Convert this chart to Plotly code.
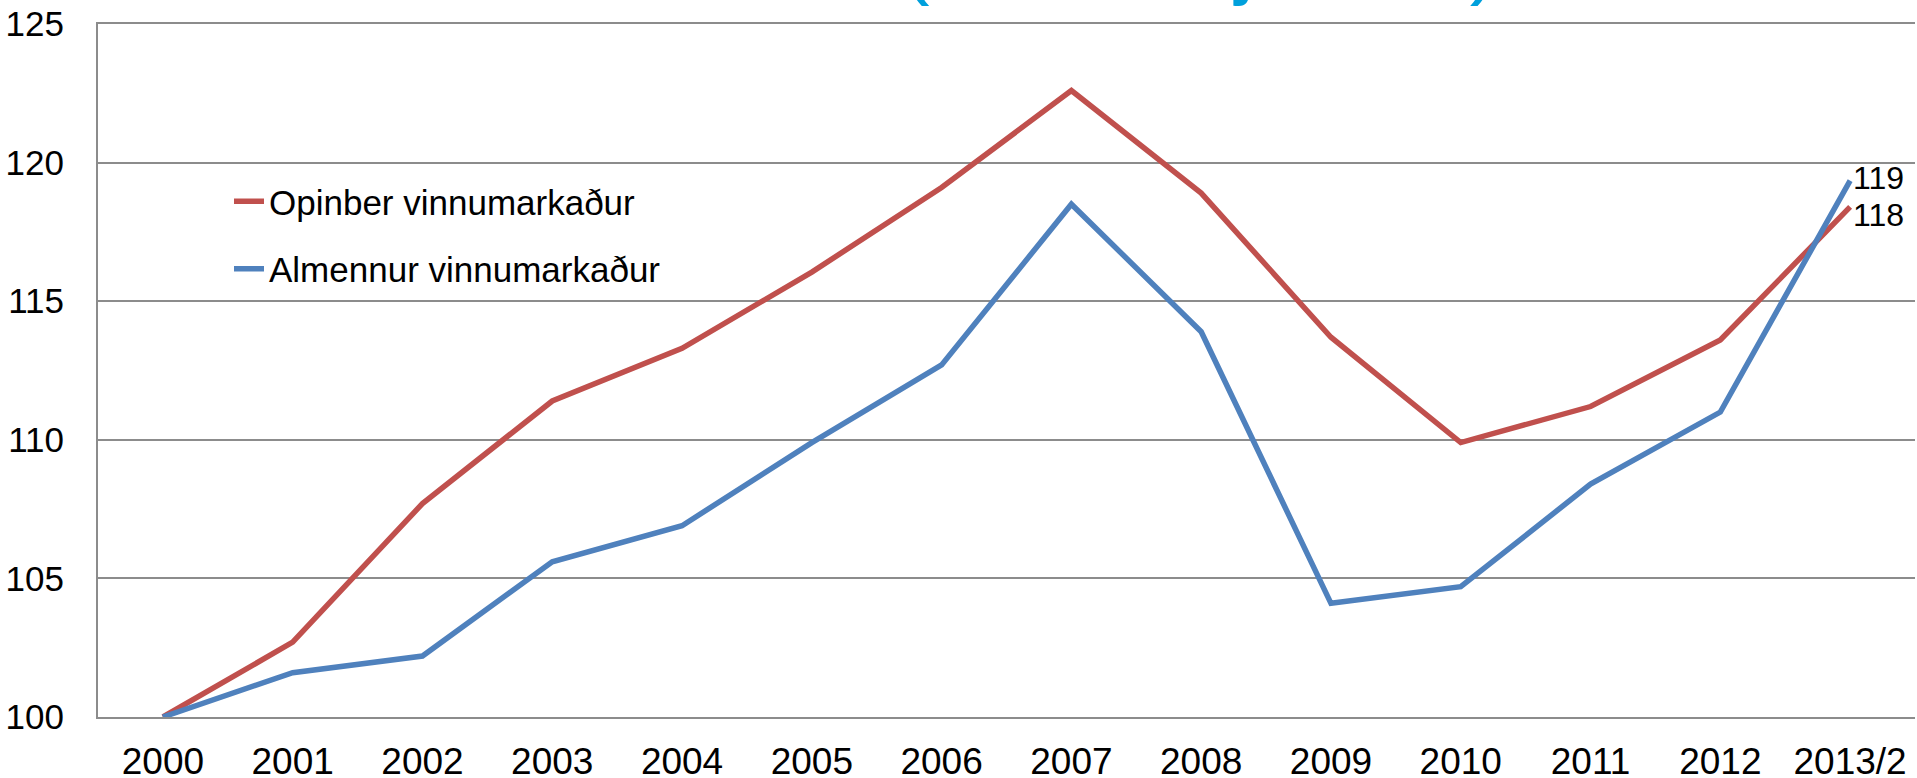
import plotly.graph_objects as go

categories = ["2000", "2001", "2002", "2003", "2004", "2005", "2006",
              "2007", "2008", "2009", "2010", "2011", "2012", "2013/2"]
opinber = [100.0, 102.7, 107.7, 111.4, 113.3, 116.05, 119.1,
           122.6, 118.9, 113.7, 109.9, 111.2, 113.6, 118.4]
almennur = [100.0, 101.6, 102.2, 105.6, 106.9, 109.9, 112.7,
            118.5, 113.9, 104.1, 104.7, 108.4, 111.0, 119.35]
series_names = ["Opinber vinnumarkaður", "Almennur vinnumarkaður"]
series_colors = ["#C0504D", "#4F81BD"]
y_ticks = [100, 105, 110, 115, 120, 125]
title_text = "(Vísitala jöfnuð)"

FONT = "Liberation Sans, Arial, sans-serif"
W, H = 1917, 778
L, R, T, B = 98, 2, 24, 61
ph = H - T - B
pw = W - L - R

fig = go.Figure()
for i, (name, vals, col) in enumerate(zip(series_names, [opinber, almennur], series_colors)):
    fig.add_trace(go.Scatter(
        x=list(range(len(categories))), y=vals, mode="lines", name=name,
        legendgroup=f"g{i}",
        line=dict(color=col, width=5.5),
    ))

# end-of-line value labels
fig.add_annotation(x=len(categories) - 1, y=almennur[-1], text=str(round(almennur[-1])),
                   xref="x", yref="y", showarrow=False, xanchor="left", yanchor="middle",
                   xshift=1, yshift=3, font=dict(family=FONT, size=32, color="black"))
fig.add_annotation(x=len(categories) - 1, y=opinber[-1], text=str(round(opinber[-1])),
                   xref="x", yref="y", showarrow=False, xanchor="left", yanchor="middle",
                   xshift=1, yshift=-8, font=dict(family=FONT, size=32, color="black"))


def py(pix):
    return 1 + (T - pix) / ph


def px(pix):
    return (pix - L) / pw


# cropped title at the top of the page
fig.add_annotation(x=px(1200), y=py(8), xref="paper", yref="paper",
                   text=title_text, showarrow=False, xanchor="center", yanchor="bottom",
                   font=dict(family=FONT, size=86, color="#00A0DC"))

fig.update_layout(
    template="none",
    width=W, height=H,
    margin=dict(l=L, r=R, t=T, b=B, pad=0, autoexpand=False),
    paper_bgcolor="white", plot_bgcolor="white",
    font=dict(family=FONT, color="black"),
    showlegend=True,
    legend=dict(x=px(229), y=py(172), xanchor="left", yanchor="top",
                font=dict(family=FONT, size=35, color="black"),
                bgcolor="rgba(0,0,0,0)", borderwidth=0,
                tracegroupgap=19, itemwidth=30),
    xaxis=dict(
        tickmode="array", tickvals=list(range(len(categories))), ticktext=categories,
        range=[-0.5, len(categories) - 0.5], showgrid=False, zeroline=False,
        showline=True, mirror=True, linecolor="#8C8C8C", linewidth=2,
        ticks="", tickfont=dict(family=FONT, size=37, color="black"),
        ticklabelstandoff=11, automargin=False,
    ),
    yaxis=dict(
        range=[100, 125], tickvals=y_ticks, showgrid=True, gridcolor="#8C8C8C", gridwidth=2,
        zeroline=False, showline=True, linecolor="#8C8C8C", linewidth=2,
        ticks="", tickfont=dict(family=FONT, size=35, color="black"),
        ticklabelstandoff=25, automargin=False,
    ),
)

fig.write_html("out.html", config={"displayModeBar": False},
               post_script="document.body.style.margin='0';document.body.style.overflow='hidden';")
